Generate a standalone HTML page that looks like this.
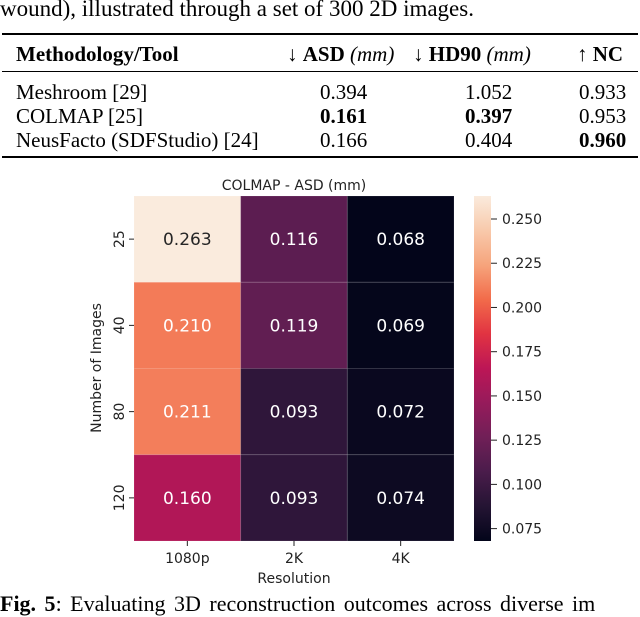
<!DOCTYPE html>
<html><head><meta charset="utf-8">
<style>
body{margin:0;background:#fff;width:640px;height:612px;overflow:hidden;position:relative}
.serif{font-family:"Liberation Serif",serif;color:#000;position:absolute}
.t span,.t b{position:absolute;white-space:nowrap}
</style></head>
<body>
<div class="serif" style="left:0;top:-4px;font-size:23px;white-space:nowrap">wound), illustrated through a set of 300 2D images.</div>
<div class="t" style="position:absolute;left:0;top:0;width:640px;height:170px;font-family:'Liberation Serif',serif;font-size:21px">
 <div style="position:absolute;left:2px;width:636px;top:33px;border-top:2px solid #000"></div>
 <div style="position:absolute;left:2px;width:636px;top:71px;border-top:1px solid #000"></div>
 <div style="position:absolute;left:2px;width:636px;top:156px;border-top:2px solid #000"></div>
 <b style="left:16px;top:42px">Methodology/Tool</b>
 <span style="left:287px;top:42px">↓ <b style="position:static">ASD</b> <i>(mm)</i></span>
 <span style="left:413px;top:42px">↓ <b style="position:static">HD90</b> <i>(mm)</i></span>
 <span style="left:577px;top:42px">↑ <b style="position:static">NC</b></span>
 <span style="left:16px;top:80px">Meshroom [29]</span><span style="left:320px;top:80px">0.394</span><span style="left:465px;top:80px">1.052</span><span style="left:579px;top:80px">0.933</span>
 <span style="left:16px;top:104px">COLMAP [25]</span><b style="left:320px;top:104px">0.161</b><b style="left:465px;top:104px">0.397</b><span style="left:579px;top:104px">0.953</span>
 <span style="left:16px;top:128px">NeusFacto (SDFStudio) [24]</span><span style="left:320px;top:128px">0.166</span><span style="left:465px;top:128px">0.404</span><b style="left:579px;top:128px">0.960</b>
</div>
<svg id="chart" width="640" height="612" style="position:absolute;left:0;top:0" font-family="DejaVu Sans, sans-serif">
<defs><linearGradient id="cb" x1="0" y1="1" x2="0" y2="0">
<stop offset="0" stop-color="#03051a"/><stop offset="0.1" stop-color="#241433"/><stop offset="0.2" stop-color="#4a1c4b"/><stop offset="0.3" stop-color="#701f57"/><stop offset="0.4" stop-color="#961b5b"/><stop offset="0.5" stop-color="#bc1656"/><stop offset="0.6" stop-color="#e13342"/><stop offset="0.7" stop-color="#f26b4a"/><stop offset="0.8" stop-color="#f6a47c"/><stop offset="0.9" stop-color="#f8c9ab"/><stop offset="1" stop-color="#faebdd"/></linearGradient></defs>
<text x="294" y="190" font-size="14" text-anchor="middle" fill="#222">COLMAP - ASD (mm)</text>
<g id="cells"></g>
<text x="294" y="583" font-size="14" text-anchor="middle" fill="#222">Resolution</text>
<text transform="translate(101,368) rotate(-90)" font-size="14" text-anchor="middle" fill="#222">Number of Images</text>
<rect x="474" y="196" width="17" height="345" fill="url(#cb)"/>
<g id="cbticks"></g>
</svg>
<div class="serif" style="left:0;top:591px;font-size:22px;white-space:nowrap;word-spacing:3px"><b>Fig. 5</b>: Evaluating 3D reconstruction outcomes across diverse im</div>
<script>
const rows=["25","40","80","120"];
const cols=["1080p","2K","4K"];
const values=[[0.263,0.116,0.068],[0.210,0.119,0.069],[0.211,0.093,0.072],[0.160,0.093,0.074]];
const cbTicks=[0.075,0.100,0.125,0.150,0.175,0.200,0.225,0.250];
const NS="http://www.w3.org/2000/svg";
const X0=134,X1=454,Y0=196,Y1=541,vmin=0.068,vmax=0.263;
const cw=(X1-X0)/cols.length, rh=(Y1-Y0)/rows.length;
const stops=[[0,"#03051a"],[0.1,"#241433"],[0.2,"#4a1c4b"],[0.3,"#701f57"],[0.4,"#961b5b"],[0.5,"#bc1656"],[0.6,"#e13342"],[0.7,"#f26b4a"],[0.8,"#f6a47c"],[0.9,"#f8c9ab"],[1,"#faebdd"]];
function hx(h){return [1,3,5].map(i=>parseInt(h.substr(i,2),16));}
function color(v){let t=Math.max(0,Math.min(1,(v-vmin)/(vmax-vmin)));for(let i=1;i<stops.length;i++){if(t<=stops[i][0]){const a=hx(stops[i-1][1]),b=hx(stops[i][1]);const f=(t-stops[i-1][0])/(stops[i][0]-stops[i-1][0]);return "rgb("+a.map((c,k)=>Math.round(c+(b[k]-c)*f)).join(",")+")";}}return stops[10][1];}
function cy(v){return Y1-(v-vmin)/(vmax-vmin)*(Y1-Y0);}
const g=document.getElementById("cells");
function mk(t,a,p){const e=document.createElementNS(NS,t);for(const k in a)e.setAttribute(k,a[k]);(p||g).appendChild(e);return e;}
rows.forEach((r,i)=>{cols.forEach((c,j)=>{const v=values[i][j];
 const rc=mk("rect",{x:X0+j*cw,y:Y0+i*rh,width:cw,height:rh,fill:color(v),stroke:"rgba(255,255,255,0.12)","stroke-width":1});
 
 
 const tx=mk("text",{x:X0+(j+.5)*cw,y:Y0+(i+.5)*rh+6,"font-size":17,"text-anchor":"middle",fill:(v-vmin)/(vmax-vmin)>0.85?"#262626":"#fff"});
 tx.textContent=v.toFixed(3);
 
 
});
 const y=Y0+(i+.5)*rh;
 mk("line",{x1:X0-5,x2:X0,y1:y,y2:y,stroke:"#222"});
 const t=mk("text",{transform:`translate(${X0-10},${y}) rotate(-90)`,"font-size":14,"text-anchor":"middle",fill:"#222"});
 t.textContent=r;
 
 
});
cols.forEach((c,j)=>{const x=X0+(j+.5)*cw;
 mk("line",{x1:x,x2:x,y1:Y1,y2:Y1+5,stroke:"#222"});
 const t=mk("text",{x:x,y:Y1+22,"font-size":14,"text-anchor":"middle",fill:"#222"});
 t.textContent=c;
 
 
});
const cg=document.getElementById("cbticks");
cbTicks.forEach(v=>{const y=cy(v);
 mk("line",{x1:491,x2:497,y1:y,y2:y,stroke:"#222"},cg);
 const t=mk("text",{x:502,y:y+5,"font-size":14,fill:"#222"},cg);
 t.textContent=v.toFixed(3);
 
 
});
</script>
</body></html>
